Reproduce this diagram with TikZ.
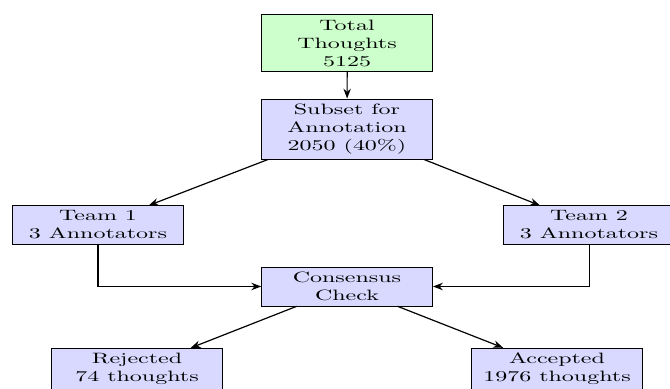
\documentclass[tikz,border=0pt]{standalone}
\usetikzlibrary{arrows.meta}
\begin{document}
\begin{tikzpicture}[x=0.4167pt, y=-0.6667pt, xscale=1.6, transform shape,
	box/.style={draw, fill=blue!15, align=center, minimum width=2.5cm},
	totalbox/.style={box, fill=green!20},
	>=Stealth]
	\useasboundingbox (0,0) rectangle (670,389);
	\node[totalbox] (total) at (347,43) {Total\\Thoughts\\5125};
	\node[box] (subset) at (347,129) {Subset for\\Annotation\\2050 (40\%)};
	\node[box] (team1) at (98,225) {Team 1\\3 Annotators};
	\node[box] (team2) at (589,225) {Team 2\\3 Annotators};
	\node[box] (check) at (347,286.5) {Consensus\\Check};
	\node[box] (rejected) at (137,369) {Rejected\\74 thoughts};
	\node[box] (accepted) at (557,369) {Accepted\\1976 thoughts};
	\draw[->, thick] (total) -- (subset);
	\draw[->, thick] (subset) -- (team1);
	\draw[->, thick] (subset) -- (team2);
	\draw[->, thick] (team1) |- (check);
	\draw[->, thick] (team2) |- (check);
	\draw[->, thick] (check) -- (rejected);
	\draw[->, thick] (check) -- (accepted);
\end{tikzpicture}
\end{document}
